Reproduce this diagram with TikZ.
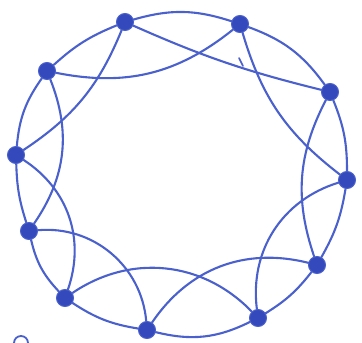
\documentclass[tikz,border=0pt]{standalone}
\usetikzlibrary{backgrounds}
\definecolor{penblue}{RGB}{74,96,204}
\definecolor{dotblue}{RGB}{52,74,188}
\tikzset{
  vtx/.style={circle,fill=dotblue,draw=penblue,line width=1pt,inner sep=0pt,minimum size=17pt},
  edge/.style={draw=penblue,line width=2.1pt,line cap=round}
}
\begin{document}
\begin{tikzpicture}[x=1pt,y=1pt]
\useasboundingbox (0,0) rectangle (362,343);
\node[vtx] (n1) at (125,321) {};
\node[vtx] (n2) at (240,319) {};
\node[vtx] (n3) at (330,251) {};
\node[vtx] (n4) at (347,163) {};
\node[vtx] (n5) at (317,78) {};
\node[vtx] (n6) at (258,25) {};
\node[vtx] (n7) at (147,13) {};
\node[vtx] (n8) at (65,45) {};
\node[vtx] (n9) at (29,112) {};
\node[vtx] (n10) at (16,188) {};
\node[vtx] (n11) at (47,272) {};
\coordinate (t1) at (239,285);
\coordinate (t2) at (243,277);
\coordinate (c0) at (21,0);
\begin{scope}[on background layer]
% ring
\draw[edge] (n1) to[bend left=17] (n2);
\draw[edge] (n2) to[bend left=17] (n3);
\draw[edge] (n3) to[bend left=11] (n4);
\draw[edge] (n4) to[bend left=10] (n5);
\draw[edge] (n5) to[bend left=10] (n6);
\draw[edge] (n6) to[bend left=20] (n7);
\draw[edge] (n7) to[bend left=12] (n8);
\draw[edge] (n8) to[bend left=15] (n9);
\draw[edge] (n9) to[bend left=8] (n10);
\draw[edge] (n10) to[bend left=15] (n11);
\draw[edge] (n11) to[bend left=10] (n1);
% chords
\draw[edge] (n1) to[bend right=5] (n3);
\draw[edge] (n2) to[bend right=18] (n4);
\draw[edge] (n3) to[bend right=23] (n5);
\draw[edge] (n4) to[bend right=40] (n6);
\draw[edge] (n5) to[bend right=35] (n7);
\draw[edge] (n6) to[bend right=40] (n8);
\draw[edge] (n7) to[bend right=45] (n9);
\draw[edge] (n8) to[bend right=38] (n10);
\draw[edge] (n9) to[bend right=28] (n11);
\draw[edge] (n10) to[bend right=17] (n1);
\draw[edge] (n11) to[bend right=25] (n2);
\draw[edge,line width=1.6pt] (t1) -- (t2);
\draw[edge,line width=1.8pt] (c0) circle[radius=7];
\end{scope}
\end{tikzpicture}
\end{document}
